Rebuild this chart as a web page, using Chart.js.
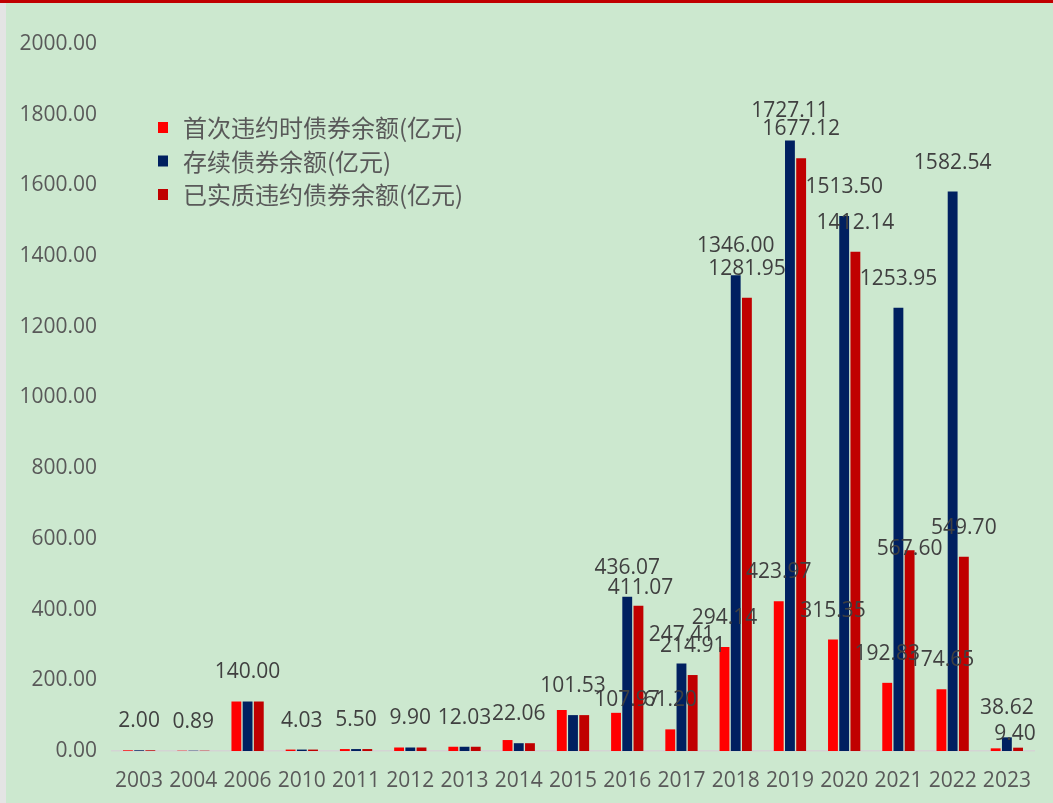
<!DOCTYPE html>
<html>
<head>
<meta charset="utf-8">
<script src="https://cdn.jsdelivr.net/npm/chart.js@4/dist/chart.umd.min.js"></script>
<style>
  html, body { margin: 0; padding: 0; background: #CCE8CF; }
  #wrap { width: 1053px; height: 803px; position: relative; }
</style>
</head>
<body>
<div id="wrap"><canvas id="bond-chart"></canvas></div>
<script>
const years = ['2003', '2004', '2006', '2010', '2011', '2012', '2013', '2014', '2015',
  '2016', '2017', '2018', '2019', '2020', '2021', '2022', '2023'];

// 首次违约时债券余额
const firstDefault = [2.00, 0.89, 140.00, 4.03, 5.50, 9.90, 12.03, 31.00, 116.00,
  107.97, 61.20, 294.14, 423.97, 315.35, 192.83, 174.65, 7.50];
// 存续债券余额
const outstanding = [2.00, 0.89, 140.00, 4.03, 5.50, 9.90, 12.03, 22.06, 101.53,
  436.07, 247.41, 1346.00, 1727.11, 1513.50, 1253.95, 1582.54, 38.62];
// 已实质违约债券余额
const actualDefault = [2.00, 0.89, 140.00, 4.03, 5.50, 9.90, 12.03, 22.06, 101.53,
  411.07, 214.91, 1281.95, 1677.12, 1412.14, 567.60, 549.70, 9.40];

// which years carry a value label, per series
const firstLabelled = ['2016', '2017', '2018', '2019', '2020', '2021', '2022'];
const outstandingLabelled = years;
const actualLabelled = ['2016', '2017', '2018', '2019', '2020', '2021', '2022', '2023'];

const yTicks = [0, 200, 400, 600, 800, 1000, 1200, 1400, 1600, 1800, 2000];

const GREEN = '#CCE8CF';
const TEXT = '#595959';

function getColor(name) {
  if (name === 'first') return '#FF0000';
  if (name === 'outstanding') return '#002060';
  if (name === 'actual') return '#C00000';
}

// labels that were dragged by hand in the original (dx, dy in px)
const labelNudge = {
  '0-2016': [11, 16],
  '2-2016': [2, 11],
  '2-2021': [0, 28],
  '2-2023': [-3, 15]
};

// page background, red top rule and grey left edge
const backdrop = {
  id: 'backdrop',
  beforeDraw(chart) {
    const ctx = chart.ctx;
    ctx.save();
    ctx.fillStyle = GREEN;
    ctx.fillRect(0, 0, chart.width, chart.height);
    ctx.fillStyle = '#E4E4E4';
    ctx.fillRect(0, 0, 6, chart.height);
    ctx.fillStyle = '#C00000';
    ctx.fillRect(0, 0, chart.width, 3);
    ctx.restore();
  }
};

// value labels above the bars
const valueLabels = {
  id: 'valueLabels',
  afterDatasetsDraw(chart) {
    const ctx = chart.ctx;
    ctx.save();
    ctx.font = "21px 'Open Sans', sans-serif";
    ctx.fillStyle = '#404040';
    ctx.textAlign = 'center';
    ctx.textBaseline = 'middle';
    chart.data.datasets.forEach((ds, di) => {
      const meta = chart.getDatasetMeta(di);
      meta.data.forEach((bar, i) => {
        if (!ds.labelled.includes(years[i])) return;
        const n = labelNudge[di + '-' + years[i]] || [0, 0];
        ctx.fillText(ds.data[i].toFixed(2), bar.x + n[0], bar.y - 29 + n[1]);
      });
    });
    ctx.restore();
  }
};

// legend floating inside the plot
const innerLegend = {
  id: 'innerLegend',
  afterDraw(chart) {
    const ctx = chart.ctx;
    ctx.save();
    ctx.font = "24px 'Noto Sans CJK SC', sans-serif";
    ctx.textBaseline = 'middle';
    chart.data.datasets.forEach((ds, i) => {
      const y = 127 + i * 33.5;
      ctx.fillStyle = ds.backgroundColor;
      ctx.fillRect(158, y - 5, 10, 11);
      ctx.fillStyle = TEXT;
      ctx.fillText(ds.label, 183, y + 1);
    });
    ctx.restore();
  }
};

function main() {
  const canvas = document.querySelector('#bond-chart');
  canvas.width = 1053;
  canvas.height = 803;

  new Chart(canvas.getContext('2d'), {
    type: 'bar',
    data: {
      labels: years,
      datasets: [
        { label: '首次违约时债券余额(亿元)', data: firstDefault, labelled: firstLabelled, backgroundColor: getColor('first') },
        { label: '存续债券余额(亿元)', data: outstanding, labelled: outstandingLabelled, backgroundColor: getColor('outstanding') },
        { label: '已实质违约债券余额(亿元)', data: actualDefault, labelled: actualLabelled, backgroundColor: getColor('actual') }
      ]
    },
    options: {
      responsive: false,
      animation: false,
      devicePixelRatio: 1,
      categoryPercentage: 0.62,
      barPercentage: 0.88,
      layout: { padding: { top: 44, right: 19, bottom: 0, left: 0 } },
      plugins: {
        legend: { display: false },
        tooltip: { enabled: false }
      },
      scales: {
        x: {
          grid: { display: false, drawTicks: false },
          border: { display: true, color: '#D4D4D4', width: 1.5 },
          ticks: { color: TEXT, font: { family: "'Open Sans'", size: 21 }, padding: 17, maxRotation: 0, autoSkip: false },
          afterFit(scale) { scale.height = 52; }
        },
        y: {
          min: 0,
          max: 2000,
          afterBuildTicks(scale) { scale.ticks = yTicks.map(v => ({ value: v })); },
          grid: { display: false, drawTicks: false },
          border: { display: false },
          ticks: {
            color: TEXT,
            font: { family: "'Open Sans'", size: 21 },
            padding: 15,
            callback: v => Number(v).toFixed(2)
          },
          afterFit(scale) { scale.width = 112; }
        }
      }
    },
    plugins: [backdrop, valueLabels, innerLegend]
  });
}

main();
</script>
</body>
</html>
